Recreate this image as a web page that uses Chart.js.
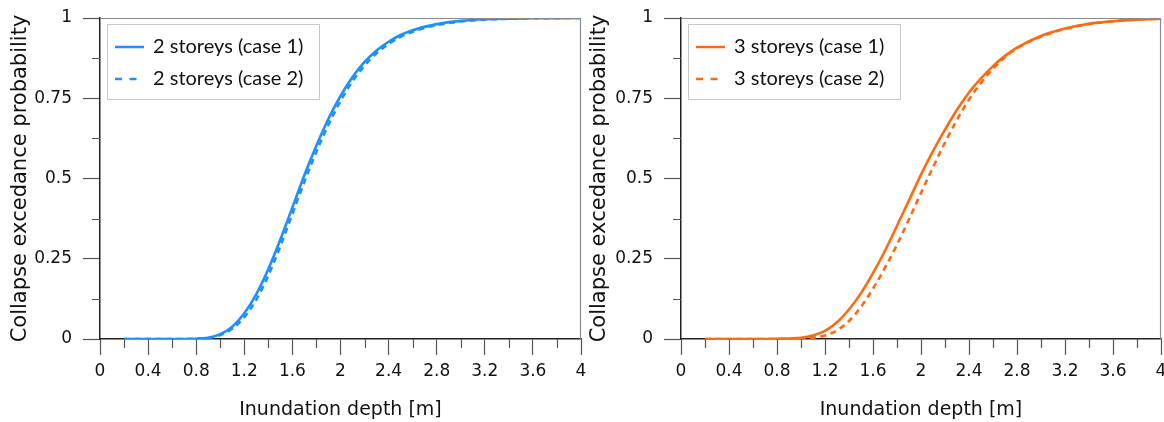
<!DOCTYPE html>
<html>
<head>
<meta charset="utf-8">
<script src="https://cdn.jsdelivr.net/npm/chart.js@4.4.1/dist/chart.umd.min.js"></script>
<style>
  html, body { margin: 0; padding: 0; background: #fff; }
  #wrap { position: relative; width: 1164px; height: 422px; }
  canvas { position: absolute; top: 0; }
</style>
</head>
<body>
<div id="wrap">
  <canvas id="c1" width="600" height="422" style="left:0"></canvas>
  <canvas id="c2" width="582" height="422" style="left:582px"></canvas>
</div>
<script>
// ---- Data ----
const depth2 = [0.2, 0.4, 0.6, 0.8, 0.9, 1.0, 1.1, 1.2, 1.3, 1.4, 1.5, 1.6, 1.7, 1.8, 1.9, 2.0, 2.1, 2.2, 2.3, 2.4, 2.5, 2.6, 2.8, 3.0, 3.2, 3.6, 4.0];
const storeys2case1 = [0, 0, 0, 0.001, 0.004, 0.015, 0.038, 0.08, 0.14, 0.218, 0.31, 0.41, 0.511, 0.603, 0.686, 0.757, 0.816, 0.863, 0.899, 0.926, 0.947, 0.962, 0.981, 0.991, 0.996, 0.999, 1];
const storeys2case2 = [0, 0, 0, 0.001, 0.003, 0.012, 0.032, 0.068, 0.123, 0.198, 0.29, 0.39, 0.49, 0.584, 0.668, 0.741, 0.803, 0.852, 0.89, 0.919, 0.941, 0.957, 0.978, 0.989, 0.995, 0.999, 1];

const depth3 = [0.2, 0.4, 0.6, 0.8, 1.0, 1.1, 1.2, 1.3, 1.4, 1.5, 1.6, 1.7, 1.8, 1.9, 2.0, 2.1, 2.2, 2.3, 2.4, 2.5, 2.6, 2.7, 2.8, 3.0, 3.2, 3.4, 3.6, 3.8, 4.0];
const storeys3case1 = [0, 0, 0, 0.001, 0.004, 0.011, 0.025, 0.052, 0.092, 0.143, 0.205, 0.275, 0.353, 0.432, 0.512, 0.585, 0.652, 0.714, 0.768, 0.812, 0.85, 0.882, 0.908, 0.944, 0.967, 0.982, 0.99, 0.995, 0.998];
const storeys3case2 = [0, 0, 0, 0, 0.001, 0.004, 0.011, 0.027, 0.056, 0.1, 0.157, 0.222, 0.294, 0.373, 0.455, 0.535, 0.612, 0.683, 0.746, 0.798, 0.842, 0.878, 0.906, 0.942, 0.966, 0.981, 0.99, 0.995, 0.998];

const xTicksMajor = [0, 0.4, 0.8, 1.2, 1.6, 2, 2.4, 2.8, 3.2, 3.6, 4];
const xTicksMinor = [0.2, 0.6, 1.0, 1.4, 1.8, 2.2, 2.6, 3.0, 3.4, 3.8];
const yTicksMajor = [0, 0.25, 0.5, 0.75, 1];
const yTicksMinor = [0.125, 0.375, 0.625, 0.875];

const xTitle = 'Inundation depth [m]';
const yTitle = 'Collapse excedance probability';
const labels2 = ['2 storeys (case 1)', '2 storeys (case 2)'];
const labels3 = ['3 storeys (case 1)', '3 storeys (case 2)'];

const BLUE = '#1E8FFF';
const ORANGE = '#FF6A10';
const SANS = "'DejaVu Sans', sans-serif";

function pts(xs, ys) { return xs.map((x, i) => ({ x: x, y: ys[i] })); }
function fmt(v) { return String(Math.round(v * 1000) / 1000); }

const frameAndLegend = {
  id: 'frameAndLegend',
  afterDraw(chart) {
    const ctx = chart.ctx;
    const ca = chart.chartArea;
    const xs = chart.scales.x, ys = chart.scales.y;
    ctx.save();
    // top and right frame
    ctx.strokeStyle = '#8a8a8a';
    ctx.lineWidth = 1.2;
    ctx.beginPath();
    ctx.moveTo(ca.left, ca.top + 0.5);
    ctx.lineTo(ca.right - 0.5, ca.top + 0.5);
    ctx.lineTo(ca.right - 0.5, ca.bottom);
    ctx.stroke();
    // minor ticks
    ctx.strokeStyle = '#555';
    ctx.lineWidth = 1.2;
    ctx.beginPath();
    xTicksMinor.forEach(v => {
      const px = Math.round(xs.getPixelForValue(v)) + 0.5;
      ctx.moveTo(px, ca.bottom); ctx.lineTo(px, ca.bottom + 9);
    });
    yTicksMinor.forEach(v => {
      const py = Math.round(ys.getPixelForValue(v)) + 0.5;
      ctx.moveTo(ca.left - 8, py); ctx.lineTo(ca.left, py);
    });
    ctx.stroke();
    // legend
    const bx = ca.left + 7, by = 24.5, bw = 212, bh = 75;
    ctx.fillStyle = '#fff';
    ctx.fillRect(bx, by, bw, bh);
    ctx.strokeStyle = '#c8c8c8';
    ctx.lineWidth = 1;
    ctx.strokeRect(bx + 0.5, by, bw, bh);
    chart.data.datasets.forEach((ds, i) => {
      const y = by + 22.5 + i * 32;
      ctx.strokeStyle = ds.borderColor;
      ctx.lineWidth = 2.5;
      ctx.setLineDash(i === 1 ? [7, 7.5] : []);
      ctx.beginPath();
      ctx.moveTo(bx + 8, y); ctx.lineTo(bx + 37, y);
      ctx.stroke();
      ctx.setLineDash([]);
      ctx.fillStyle = '#111';
      ctx.font = '20px Lato';
      ctx.textBaseline = 'middle';
      ctx.textAlign = 'left';
      ctx.fillText(ds.label, bx + 46, y);
    });
    ctx.restore();
  }
};

function makeChart(id, xsArr, s1, s2, lbls, color, yw, pad, titlePad) {
  return new Chart(document.getElementById(id), {
    type: 'line',
    data: {
      datasets: [
        { label: lbls[0], data: pts(xsArr, s1), borderColor: color, borderWidth: 2.6, pointRadius: 0, cubicInterpolationMode: 'monotone', fill: false },
        { label: lbls[1], data: pts(xsArr, s2), borderColor: color, borderWidth: 2.6, borderDash: [6, 4.5], pointRadius: 0, cubicInterpolationMode: 'monotone', fill: false }
      ]
    },
    options: {
      responsive: false,
      animation: false,
      devicePixelRatio: 1,
      layout: { padding: pad },
      plugins: { legend: { display: false }, tooltip: { enabled: false } },
      scales: {
        x: {
          type: 'linear', min: 0, max: 4,
          afterBuildTicks: s => { s.ticks = xTicksMajor.map(v => ({ value: v })); },
          afterFit: s => { s.height = 83; s.paddingLeft = 0; s.paddingRight = 0; },
          grid: { drawOnChartArea: false, drawTicks: true, tickLength: 16, tickColor: '#555', tickWidth: 1.2 },
          border: { display: true, color: '#222', width: 1.5 },
          ticks: { color: '#111', font: { family: SANS, size: 17 }, padding: 6, maxRotation: 0, autoSkip: false, callback: v => fmt(v) },
          title: { display: true, text: xTitle, color: '#111', font: { family: SANS, size: 19 }, padding: { top: 0, bottom: 1 } }
        },
        y: {
          type: 'linear', min: 0, max: 1,
          afterBuildTicks: s => { s.ticks = yTicksMajor.map(v => ({ value: v })); },
          ticks: { color: '#111', font: { family: SANS, size: 17 }, padding: 11, autoSkip: false, callback: v => fmt(v) },
          afterFit: s => { s.width = yw; s.paddingTop = 0; s.paddingBottom = 0; },
          grid: { drawOnChartArea: false, drawTicks: true, tickLength: 17, tickColor: '#555', tickWidth: 1.2 },
          border: { display: true, color: '#222', width: 1.5 },
          title: { display: true, text: yTitle, color: '#111', font: { family: SANS, size: 21 }, padding: { top: titlePad, bottom: 0 } }
        }
      }
    },
    plugins: [frameAndLegend]
  });
}

makeChart('c1', depth2, storeys2case1, storeys2case2, labels2, BLUE, 100, { left: 0, top: 18, right: 19, bottom: 0 }, 8);
makeChart('c2', depth3, storeys3case1, storeys3case2, labels3, ORANGE, 99, { left: 0, top: 18, right: 3, bottom: 0 }, 5);
</script>
</body>
</html>
